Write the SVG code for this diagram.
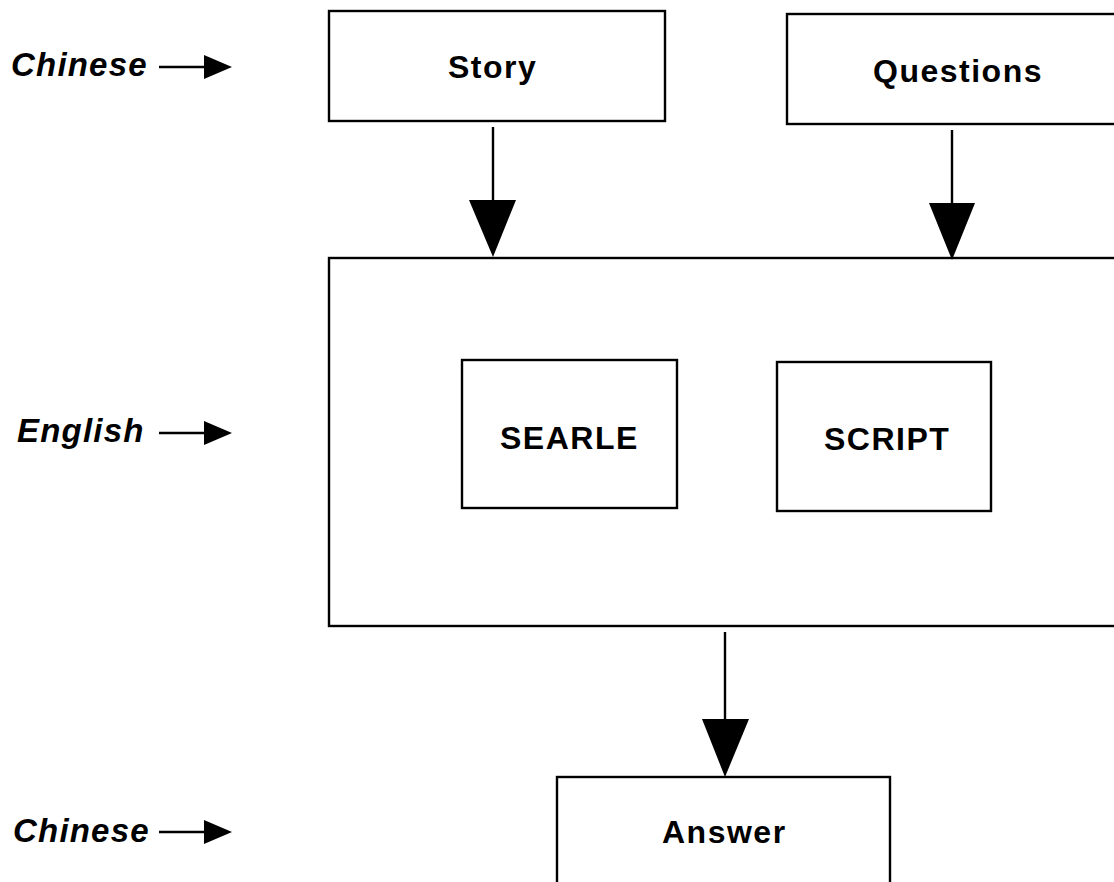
<svg xmlns="http://www.w3.org/2000/svg" width="1114" height="882" viewBox="0 0 1114 882">
  <style>
    .box { fill: #fff; stroke: #000; stroke-width: 2.4; }
    .node { font-family: "Liberation Sans", Arial, sans-serif; font-weight: bold; font-size: 32px; letter-spacing: 1.5px; fill: #000; }
    .lang { font-family: "Liberation Sans", Arial, sans-serif; font-weight: bold; font-style: italic; font-size: 33px; letter-spacing: 1.2px; fill: #000; }
    .wire { stroke: #000; stroke-width: 2.4; fill: none; }
    .head { fill: #000; }
  </style>
  <rect width="1114" height="882" fill="#fff"/>

  <!-- language labels on the left -->
  <g id="label-chinese-top">
    <text class="lang" x="11" y="76">Chinese</text>
    <line class="wire" x1="159" y1="67" x2="206" y2="67"/>
    <polygon class="head" points="204,55 232,67 204,79"/>
  </g>
  <g id="label-english">
    <text class="lang" x="17" y="442">English</text>
    <line class="wire" x1="159" y1="433" x2="206" y2="433"/>
    <polygon class="head" points="204,421 232,433 204,445"/>
  </g>
  <g id="label-chinese-bottom">
    <text class="lang" x="13" y="842">Chinese</text>
    <line class="wire" x1="159" y1="832" x2="206" y2="832"/>
    <polygon class="head" points="204,820 232,832 204,844"/>
  </g>

  <!-- nodes -->
  <g id="node-story">
    <rect class="box" x="329" y="11" width="336" height="110"/>
    <text class="node" x="448" y="78">Story</text>
  </g>
  <g id="node-questions">
    <rect class="box" x="787" y="14" width="340" height="110"/>
    <text class="node" x="873" y="82">Questions</text>
  </g>
  <g id="node-room">
    <rect class="box" x="329" y="258" width="800" height="368"/>
  </g>
  <g id="node-searle">
    <rect class="box" x="462" y="360" width="215" height="148"/>
    <text class="node" x="500" y="449">SEARLE</text>
  </g>
  <g id="node-script">
    <rect class="box" x="777" y="362" width="214" height="149"/>
    <text class="node" x="824" y="450">SCRIPT</text>
  </g>
  <g id="node-answer">
    <rect class="box" x="557" y="777" width="333" height="120"/>
    <text class="node" x="662" y="843">Answer</text>
  </g>

  <!-- connectors -->
  <g id="connectors">
    <line class="wire" x1="493" y1="127" x2="493" y2="205"/>
    <polygon class="head" points="469,200 516,200 493,257"/>
    <line class="wire" x1="952" y1="130" x2="952" y2="208"/>
    <polygon class="head" points="929,203 975,203 952,260"/>
    <line class="wire" x1="725" y1="632" x2="725" y2="724"/>
    <polygon class="head" points="702,719 749,719 725,777"/>
  </g>
</svg>
